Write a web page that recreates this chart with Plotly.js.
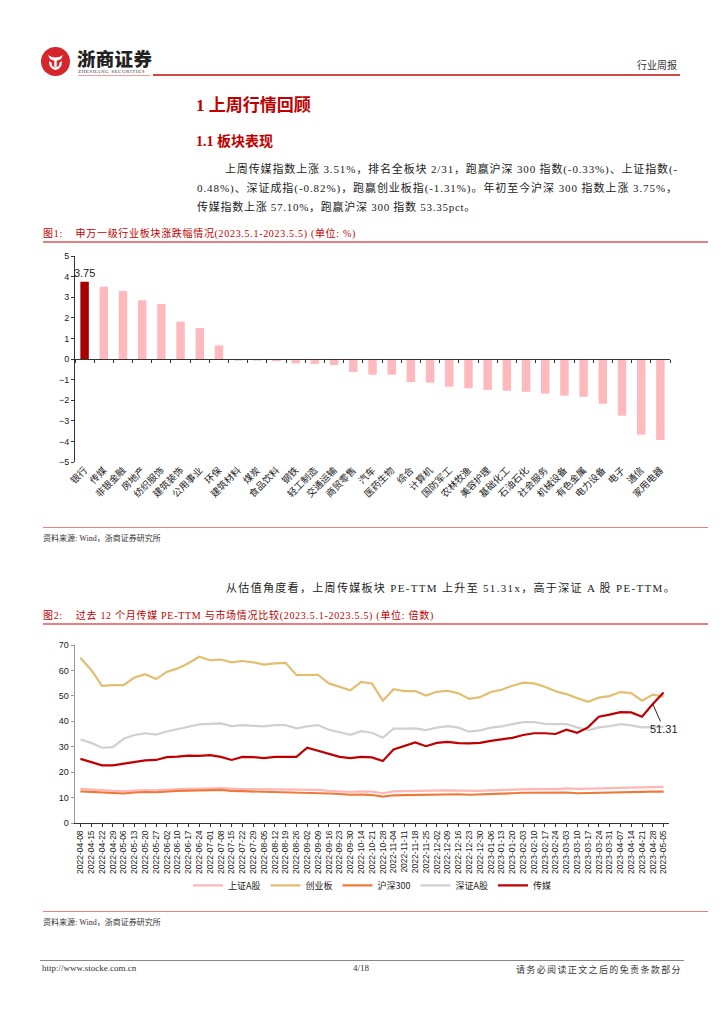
<!DOCTYPE html>
<html><head><meta charset="utf-8">
<script src="https://cdn.plot.ly/plotly-3.0.1.min.js"></script>
<style>
body{margin:0;background:#fff;}
#page{position:relative;width:724px;height:1024px;overflow:hidden;font-family:"Liberation Serif","Noto Sans CJK SC",serif;color:#222;}
.abs{position:absolute;white-space:nowrap;}
.red{color:#C00000;}
.hline{position:absolute;height:0;}
</style></head>
<body><div id="page">
<!-- header -->
<svg class="abs" style="left:40px;top:46px" width="31" height="31" viewBox="0 0 31 31">
 <circle cx="15.5" cy="15.5" r="14.5" fill="#D7262B"/>
 <path d="M8 9 Q15.5 14 23 9 L21 13 Q15.5 16.5 10 13 Z" fill="#fff"/>
 <path d="M9 15 Q9 23 15.5 24 Q22 23 22 15 L19.5 16.5 Q19.5 21 15.5 21.5 Q11.5 21 11.5 16.5 Z" fill="#fff"/>
 <rect x="14.3" y="14" width="2.4" height="7" fill="#fff"/>
</svg>
<div class="abs" style="left:77px;top:45px;font-family:'Noto Sans CJK SC';font-weight:900;font-size:18.5px;color:#222;letter-spacing:0.3px">浙商证券</div>
<div class="abs" style="left:78px;top:69px;font-size:5px;letter-spacing:0.55px;color:#333;font-family:'Liberation Serif'">ZHESHANG SECURITIES</div>
<div class="hline" style="left:78px;top:75px;width:72px;border-top:1px solid #E9A0A0"></div>
<div class="hline" style="left:153px;top:74px;width:527px;border-top:2px solid #D04848"></div>
<div class="abs" style="left:637px;top:57px;font-size:10px;color:#333">行业周报</div>

<!-- headings -->
<div class="abs red" style="left:196px;top:91px;font-size:17px;font-weight:bold">1 上周行情回顾</div>
<div class="abs red" style="left:196px;top:130px;font-size:14px;font-weight:bold">1.1 板块表现</div>
<div class="abs fit" data-end="678" style="left:225px;top:160px;font-size:11px">上周传媒指数上涨 3.51%，排名全板块 2/31，跑赢沪深 300 指数(-0.33%)、上证指数(-</div>
<div class="abs fit" data-end="678" style="left:197px;top:179px;font-size:11px">0.48%)、深证成指(-0.82%)，跑赢创业板指(-1.31%)。年初至今沪深 300 指数上涨 3.75%，</div>
<div class="abs fit" data-end="476" style="left:197px;top:198px;font-size:11px">传媒指数上涨 57.10%，跑赢沪深 300 指数 53.35pct。</div>

<!-- figure 1 -->
<div class="abs red fit" data-end="356" style="left:43px;top:225px;font-size:10px">图1:&nbsp;&nbsp;&nbsp;&nbsp;申万一级行业板块涨跌幅情况(2023.5.1-2023.5.5) (单位: %)</div>
<div class="hline" style="left:43px;top:241px;width:665px;border-top:2px solid #E58080"></div>
<div id="chart1" class="abs" style="left:0;top:245px;width:724px;height:285px"></div>
<div class="hline" style="left:43px;top:527px;width:665px;border-top:1px solid #E58080"></div>
<div class="abs" style="left:43px;top:532px;font-size:8px;color:#333">资料来源: Wind，浙商证券研究所</div>

<div class="abs fit" data-end="676" style="left:226px;top:579px;font-size:11px">从估值角度看，上周传媒板块 PE-TTM 上升至 51.31x，高于深证 A 股 PE-TTM。</div>

<!-- figure 2 -->
<div class="abs red fit" data-end="434" style="left:43px;top:607px;font-size:10px">图2:&nbsp;&nbsp;&nbsp;&nbsp;过去 12 个月传媒 PE-TTM 与市场情况比较(2023.5.1-2023.5.5) (单位: 倍数)</div>
<div class="hline" style="left:43px;top:623px;width:665px;border-top:2px solid #E58080"></div>
<div id="chart2" class="abs" style="left:0;top:628px;width:724px;height:290px"></div>
<div class="hline" style="left:43px;top:911px;width:665px;border-top:1px solid #E58080"></div>
<div class="abs" style="left:43px;top:916px;font-size:8px;color:#333">资料来源: Wind，浙商证券研究所</div>

<!-- footer -->
<div class="hline" style="left:40px;top:960px;width:644px;border-top:1px solid #888"></div>
<div class="abs" style="left:42px;top:963px;font-size:9px;color:#333">http://www.stocke.com.cn</div>
<div class="abs" style="left:353px;top:963px;font-size:9px;color:#333">4/18</div>
<div class="abs fit" data-end="682" style="left:516px;top:963px;font-size:9px;color:#333">请务必阅读正文之后的免责条款部分</div>
</div>
<script>
// ---- Figure 1 data ----
const industries = ['银行','传媒','非银金融','房地产','纺织服饰','建筑装饰','公用事业','环保','建筑材料','煤炭','食品饮料','钢铁','轻工制造','交通运输','商贸零售','汽车','医药生物','综合','计算机','国防军工','农林牧渔','美容护理','基础化工','石油石化','社会服务','机械设备','有色金属','电力设备','电子','通信','家用电器'];
const changes = [3.75,3.51,3.30,2.85,2.67,1.81,1.50,0.66,-0.08,-0.08,-0.11,-0.21,-0.24,-0.29,-0.63,-0.76,-0.76,-1.12,-1.15,-1.34,-1.42,-1.50,-1.54,-1.59,-1.68,-1.78,-1.83,-2.17,-2.75,-3.67,-3.93];
const highlight = '银行';

// ---- Figure 2 data ----
const dates = ['2022-04-08','2022-04-15','2022-04-22','2022-04-29','2022-05-06','2022-05-13','2022-05-20','2022-05-27','2022-06-02','2022-06-10','2022-06-17','2022-06-24','2022-07-01','2022-07-08','2022-07-15','2022-07-22','2022-07-29','2022-08-05','2022-08-12','2022-08-19','2022-08-26','2022-09-02','2022-09-09','2022-09-16','2022-09-23','2022-09-30','2022-10-14','2022-10-21','2022-10-28','2022-11-04','2022-11-11','2022-11-18','2022-11-25','2022-12-02','2022-12-09','2022-12-16','2022-12-23','2022-12-30','2023-01-06','2023-01-13','2023-01-20','2023-02-03','2023-02-10','2023-02-17','2023-02-24','2023-03-03','2023-03-10','2023-03-17','2023-03-24','2023-03-31','2023-04-07','2023-04-14','2023-04-21','2023-04-28','2023-05-05'];
const shA = [13.4,13.2,12.8,12.6,12.4,12.7,12.9,12.8,13.1,13.3,13.4,13.6,13.6,13.7,13.4,13.3,13.3,13.2,13.2,13.3,13.0,12.9,13.0,12.6,12.4,12.2,12.4,12.3,11.7,12.4,12.5,12.6,12.6,12.8,12.8,12.7,12.5,12.6,12.8,13.0,13.2,13.4,13.4,13.3,13.3,13.6,13.4,13.5,13.6,13.7,13.9,14.0,14.1,14.1,14.2];
const cyb = [65.0,60.2,53.9,54.2,54.2,57.2,58.5,56.6,59.4,60.8,62.8,65.4,64.0,64.3,63.2,63.7,63.2,62.3,62.8,63.0,58.2,58.3,58.3,54.9,53.4,52.2,55.5,54.9,48.1,52.6,51.9,51.9,50.1,51.6,52.0,51.0,48.8,49.5,51.5,52.4,54.0,55.2,54.9,53.6,51.8,50.7,49.1,47.7,49.3,49.9,51.5,51.1,48.1,50.5,49.7];
const hs300 = [12.4,12.2,11.8,11.8,11.6,12.0,12.2,12.1,12.4,12.6,12.7,12.9,12.9,13.0,12.6,12.5,12.4,12.3,12.3,12.3,12.1,11.9,12.0,11.6,11.4,11.1,11.2,11.0,10.4,10.9,11.0,11.1,11.2,11.3,11.4,11.3,11.1,11.2,11.4,11.5,11.7,11.9,11.9,11.8,11.8,12.0,11.7,11.8,11.9,12.0,12.2,12.3,12.3,12.3,12.3];
const szA = [32.9,31.5,29.6,29.8,33.1,34.6,35.3,34.8,36.0,36.9,37.7,38.8,39.0,39.2,38.1,38.5,38.2,38.0,38.5,38.5,37.2,38.0,38.5,36.7,35.7,34.7,36.1,35.5,33.5,37.1,37.1,37.2,36.5,37.5,38.1,37.5,35.9,36.4,37.5,38.0,38.9,39.7,39.7,39.0,38.9,38.9,37.6,36.5,37.6,38.1,38.9,38.4,37.6,37.6,37.8];
const media = [25.2,24.0,22.7,22.7,23.4,24.0,24.6,24.8,25.9,26.1,26.5,26.4,26.7,26.0,24.8,26.0,25.9,25.5,26.0,26.0,26.0,29.6,28.4,27.1,26.0,25.5,26.0,25.8,24.4,28.9,30.2,31.7,30.2,31.5,31.9,31.4,31.3,31.5,32.3,33.0,33.5,34.6,35.3,35.3,35.0,36.7,35.5,37.6,41.8,42.6,43.6,43.5,41.8,46.8,51.31];
const seriesNames = ['上证A股','创业板','沪深300','深证A股','传媒'];

// fit text lines to their right edges
document.querySelectorAll('.fit').forEach(el => {
  const left = parseFloat(el.style.left);
  const target = parseFloat(el.dataset.end) - left;
  const w = el.getBoundingClientRect().width;
  const n = el.textContent.length;
  el.style.letterSpacing = ((target - w) / n) + 'px';
});

const numFont = {family:'Liberation Sans, Arial, sans-serif', size:9, color:'#222'};
const cjkFont = {family:'Noto Sans CJK SC', size:9.5, color:'#222'};

// ---- chart 1 ----
const barColors = industries.map(n => n === highlight ? '#A80000' : '#FFB8BC');
const barText = changes.map((v,i) => industries[i] === highlight ? v.toFixed(2) : '');
Plotly.newPlot('chart1', [
  {type:'bar', x:industries, y:changes, marker:{color:barColors}, width:0.44,
   text:barText, textposition:'outside', cliponaxis:false, constraintext:'none',
   textfont:{family:'Liberation Sans, Arial', size:11, color:'#222'}, hoverinfo:'skip', showlegend:false},
  {type:'scatter', mode:'markers', x:industries, y:changes, xaxis:'x2', marker:{opacity:0}, hoverinfo:'skip', showlegend:false}
], {
  width:724, height:285,
  margin:{l:75, r:54, t:11, b:68, autoexpand:false},
  paper_bgcolor:'rgba(0,0,0,0)', plot_bgcolor:'rgba(0,0,0,0)',
  xaxis:{type:'category', range:[-0.5,30.5], tickangle:-45, tickfont:cjkFont, showline:false, ticks:'', showgrid:false, zeroline:false, fixedrange:true},
  xaxis2:{type:'category', range:[-0.5,30.5], overlaying:'x', anchor:'free', position:0.5, side:'bottom',
          showline:true, linecolor:'#333', linewidth:1, ticks:'outside', ticklen:3, tickcolor:'#333', tickson:'boundaries',
          showticklabels:false, showgrid:false, zeroline:false, fixedrange:true},
  yaxis:{range:[-5,5], dtick:1, showline:true, linecolor:'#333', linewidth:1, ticks:'outside', ticklen:3, tickcolor:'#333',
         tickfont:numFont, showgrid:false, zeroline:false, fixedrange:true}
}, {staticPlot:true});

// ---- chart 2 ----
const seriesData = [shA, cyb, hs300, szA, media];
const seriesColors = ['#FFB6B8','#E2BE6E','#EE7A3A','#D0D0D0','#C00000'];
const traces2 = seriesData.map((arr,k) => ({
  type:'scatter', mode:'lines', x:dates, y:arr, name:seriesNames[k],
  line:{color:seriesColors[k], width:2.2}, hoverinfo:'skip'
}));
const last = media.length - 1;
Plotly.newPlot('chart2', traces2, {
  width:724, height:290,
  margin:{l:75, r:55, t:17, b:95, autoexpand:false},
  paper_bgcolor:'rgba(0,0,0,0)', plot_bgcolor:'rgba(0,0,0,0)',
  xaxis:{type:'category', range:[-0.5,54.5], tickmode:'linear', tick0:0, dtick:1, tickangle:-90,
         tickfont:{family:'Liberation Sans, Arial, sans-serif', size:8.5, color:'#222'}, showline:true, linecolor:'#333', linewidth:1,
         ticks:'outside', ticklen:3, tickcolor:'#333', showgrid:false, zeroline:false, fixedrange:true},
  yaxis:{range:[0,70], dtick:10, showline:true, linecolor:'#999', linewidth:1.5, ticks:'outside', ticklen:3, tickcolor:'#999',
         tickfont:numFont, showgrid:false, zeroline:false, fixedrange:true},
  legend:{orientation:'h', x:0.5, xanchor:'center', y:-0.35, yanchor:'middle', font:{family:'Noto Sans CJK SC', size:9, color:'#222'},
          itemwidth:30, bgcolor:'rgba(0,0,0,0)'},
  annotations:[{x:dates[last-1], y:media[last-1], ax:11, ay:25, text:media[last].toFixed(2), showarrow:true, arrowhead:0,
                arrowwidth:1, arrowcolor:'#222', font:{family:'Liberation Sans, Arial', size:11, color:'#222'}}]
}, {staticPlot:true});
</script>
</body></html>
